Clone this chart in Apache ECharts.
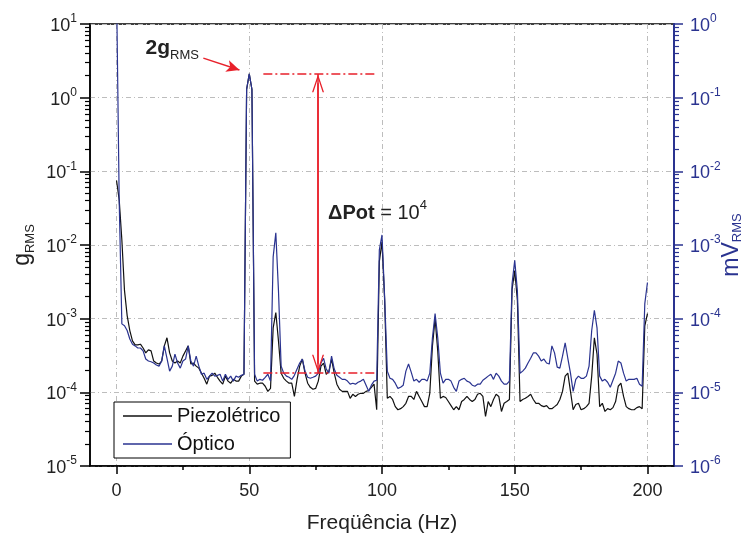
<!DOCTYPE html>
<html><head><meta charset="utf-8">
<script src="https://cdn.jsdelivr.net/npm/echarts@6/dist/echarts.min.js"></script>
<style>html,body{margin:0;padding:0;background:#fff}#c{width:752px;height:533px}</style>
</head><body><div id="c"></div>
<script>
// ---- DATA ----
const freq = [0,1,2,3,4,5,6,7,8,9,10,11,12,13,14,15,16,17,18,19,20,21,22,23,24,25,26,27,28,29,30,31,32,33,34,35,36,37,38,39,40,41,42,43,44,45,46,47,48,49,50,51,52,53,54,55,56,57,58,59,60,61,62,63,64,65,66,67,68,69,70,71,72,73,74,75,76,77,78,79,80,81,82,83,84,85,86,87,88,89,90,91,92,93,94,95,96,97,98,99,100,101,102,103,104,105,106,107,108,109,110,111,112,113,114,115,116,117,118,119,120,121,122,123,124,125,126,127,128,129,130,131,132,133,134,135,136,137,138,139,140,141,142,143,144,145,146,147,148,149,150,151,152,153,154,155,156,157,158,159,160,161,162,163,164,165,166,167,168,169,170,171,172,173,174,175,176,177,178,179,180,181,182,183,184,185,186,187,188,189,190,191,192,193,194,195,196,197,198,199,200];
// Piezoelétrico, g_RMS (left axis)
const piezo = [
0.075,0.041,0.0117,0.0024,0.0011,6.9e-4,5.0e-4,4.4e-4,4.4e-4,4.5e-4,
4.0e-4,3.43e-4,3.77e-4,3.65e-4,2.66e-4,2.5e-4,2.42e-4,2.66e-4,4.27e-4,5.5e-4,
3.43e-4,2.66e-4,2.5e-4,2.66e-4,2.5e-4,3.1e-4,3.65e-4,4.27e-4,2.42e-4,2.5e-4,
2.27e-4,2.13e-4,1.82e-4,1.55e-4,1.29e-4,1.66e-4,1.7e-4,1.82e-4,1.6e-4,1.42e-4,
1.29e-4,1.66e-4,1.42e-4,1.33e-4,1.5e-4,1.42e-4,1.42e-4,1.66e-4,1.76e-4,1.3,
2.1,1.3,1.42e-4,1.29e-4,1.33e-4,1.33e-4,1.21e-4,1.03e-4,1.13e-4,7.5e-4,
1.21e-3,5.0e-4,1.82e-4,1.55e-4,1.42e-4,1.33e-4,1.33e-4,8.8e-5,1.5e-4,2.27e-4,
2.83e-4,1.82e-4,1.33e-4,1.17e-4,1.1e-4,1.13e-4,1.42e-4,2.27e-4,2.5e-4,1.76e-4,
1.94e-4,2.83e-4,1.82e-4,1.29e-4,1.1e-4,1.03e-4,1.03e-4,1.03e-4,8.3e-5,9.4e-5,
8.8e-5,9.4e-5,9.7e-5,9.7e-5,1.03e-4,1.06e-4,1.17e-4,1.29e-4,5.8e-5,6.0e-3,
0.011,1.77e-3,8.3e-5,8.8e-5,8.0e-5,6.4e-5,5.8e-5,6.0e-5,6.4e-5,7.1e-5,
8.8e-5,8.8e-5,8.0e-5,1.03e-4,8.8e-5,7.5e-5,6.4e-5,6.4e-5,9.7e-5,4.27e-4,
1.0e-3,3.65e-4,8.3e-5,8.8e-5,8.5e-5,7.5e-5,6.6e-5,5.8e-5,6.4e-5,5.8e-5,
7.5e-5,8.0e-5,8.8e-5,8.0e-5,7.5e-5,8.0e-5,9.4e-5,9.7e-5,8.8e-5,4.7e-5,
7.5e-5,6.4e-5,8.0e-5,9.4e-5,8.8e-5,5.5e-5,7.1e-5,7.5e-5,8.0e-5,2.5e-3,
4.5e-3,1.77e-3,7.5e-5,8.0e-5,8.3e-5,8.8e-5,9.4e-5,8.0e-5,7.1e-5,7.1e-5,
6.6e-5,6.4e-5,6.6e-5,6.0e-5,6.0e-5,6.4e-5,6.85e-5,8.0e-5,1.03e-4,1.66e-4,
1.82e-4,1.03e-4,5.8e-5,6.85e-5,7.1e-5,5.8e-5,6.0e-5,6.4e-5,7.1e-5,1.66e-4,
5.5e-4,3.3e-4,6.4e-5,7.1e-5,5.5e-5,6.0e-5,5.8e-5,6.2e-5,7.5e-5,1.21e-4,
1.33e-4,8.8e-5,6.4e-5,6.0e-5,5.8e-5,5.8e-5,6.2e-5,6.4e-5,6.0e-5,8.0e-4,
1.17e-3];
// Óptico, mV_RMS (right axis)
const optico = [
3,0.004,8.5e-5,8.0e-5,6.9e-5,5.3e-5,4.5e-5,4.27e-5,4.0e-5,4.0e-5,
3.65e-5,2.83e-5,2.66e-5,2.6e-5,2.5e-5,2.35e-5,2.27e-5,2.66e-5,4.27e-5,2.9e-5,
1.94e-5,2.27e-5,3.3e-5,2.5e-5,2.13e-5,2.66e-5,2.83e-5,4.27e-5,2.66e-5,2.27e-5,
3.1e-5,2.27e-5,1.76e-5,1.82e-5,1.5e-5,1.66e-5,1.82e-5,1.66e-5,1.7e-5,1.76e-5,
1.42e-5,1.76e-5,1.5e-5,1.66e-5,1.42e-5,1.66e-5,1.6e-5,1.7e-5,1.76e-5,0.13,
0.21,0.13,1.76e-5,1.42e-5,1.5e-5,1.46e-5,1.6e-5,1.76e-5,1.42e-5,6.9e-4,
1.46e-3,2.4e-4,2.27e-5,1.82e-5,1.66e-5,1.6e-5,1.5e-5,1.7e-5,2.07e-5,2.5e-5,
2.83e-5,1.94e-5,1.6e-5,1.55e-5,1.6e-5,1.66e-5,1.82e-5,2.5e-5,2.9e-5,2.07e-5,
1.82e-5,3.1e-5,2.07e-5,1.7e-5,1.6e-5,1.5e-5,1.5e-5,1.42e-5,1.29e-5,1.33e-5,
1.29e-5,1.37e-5,1.42e-5,1.5e-5,1.25e-5,1.03e-5,1.25e-5,1.42e-5,1.46e-5,8.6e-4,
1.37e-3,1.9e-4,1.94e-5,1.55e-5,1.5e-5,1.33e-5,1.13e-5,1.17e-5,1.25e-5,1.94e-5,
2.42e-5,1.88e-5,1.42e-5,1.5e-5,1.37e-5,1.5e-5,1.5e-5,1.42e-5,1.82e-5,5.5e-5,
1.17e-4,5.5e-5,1.82e-5,1.33e-5,1.5e-5,1.5e-5,1.42e-5,1.17e-5,1.03e-5,1.42e-5,
1.5e-5,1.55e-5,1.42e-5,1.37e-5,1.25e-5,1.21e-5,1.29e-5,1.29e-5,1.46e-5,1.55e-5,
1.66e-5,1.76e-5,1.5e-5,1.82e-5,1.66e-5,1.42e-5,1.29e-5,1.29e-5,1.42e-5,3.0e-4,
6.2e-4,2.4e-4,1.82e-5,1.94e-5,2.13e-5,2.5e-5,2.9e-5,3.43e-5,3.43e-5,3.1e-5,
2.66e-5,2.83e-5,2.5e-5,2.42e-5,4.27e-5,3.43e-5,2.2e-5,2.13e-5,3.1e-5,4.7e-5,
2.9e-5,1.82e-5,1.03e-5,1.5e-5,1.66e-5,1.55e-5,1.55e-5,1.66e-5,2.27e-5,6.9e-5,
1.3e-4,7.5e-5,1.66e-5,1.42e-5,1.5e-5,1.37e-5,1.17e-5,1.46e-5,1.82e-5,2.66e-5,
2.5e-5,1.82e-5,1.42e-5,1.5e-5,1.5e-5,1.5e-5,1.55e-5,1.29e-5,1.21e-5,1.6e-4,
3.1e-4];
const xTicks = [0, 50, 100, 150, 200];
const xMinorTicks = [25, 75, 125, 175];
const seriesNames = ['Piezolétrico', 'Óptico'];
// annotation (data coordinates)
const peakLevel = 2.1;      // 2 g_RMS
const floorLevel = 1.84e-4; // noise floor
// ---- END DATA ----

const FONT = 'Liberation Sans, Arial, sans-serif';
const BLUE = '#2a3390';
const RED = '#e8212b';

function minorLog(lo, hi) {
  const out = [];
  for (let d = lo; d < hi; d++) for (let k = 2; k <= 9; k++) out.push(+(k * Math.pow(10, d)).toPrecision(3));
  return out;
}
const supFmt = v => '{b|10}{s|' + Math.round(Math.log10(v)) + '}';
const labRich = (c) => ({
  b: {fontSize: 18, fontFamily: FONT, color: c, lineHeight: 22, verticalAlign: 'bottom'},
  s: {fontSize: 12, fontFamily: FONT, color: c, lineHeight: 14, verticalAlign: 'top'}
});
const grid = {left: 90, right: 78, top: 24, bottom: 67, show: true, borderColor: '#000', borderWidth: 1.5,
  backgroundColor: 'transparent', containLabel: false, outerBoundsMode: 'none'};
const gridLine = {show: true, lineStyle: {color: '#bdbdbd', width: 1, type: [5, 3, 1, 3]}};
const chevron = 'path://M6,0 L12,18 L10.6,18 L6,4 L1.4,18 L0,18 Z';

const chart = echarts.init(document.getElementById('c'));
const option = {
  animation: false,
  backgroundColor: '#fff',
  grid: grid,
  legend: {
    orient: 'vertical', left: 114, top: 402, itemWidth: 49, itemHeight: 1.4, itemGap: 8, icon: 'rect',
    padding: [4, 10, 4, 9], borderColor: '#000', borderWidth: 1, backgroundColor: '#fff',
    textStyle: {fontSize: 20, fontFamily: FONT, color: '#111', lineHeight: 20},
    data: seriesNames
  },
  xAxis: [{
    type: 'value', min: -10, max: 210,
    name: 'Freqüência (Hz)', nameLocation: 'middle', nameGap: 47, nameMoveOverlap: false,
    nameTextStyle: {fontSize: 21, fontFamily: FONT, color: '#222'},
    axisLine: {show: true, onZero: false, lineStyle: {color: '#000', width: 1.5}},
    axisTick: {show: true, customValues: xTicks, length: 8, lineStyle: {color: '#000', width: 1.5}},
    axisLabel: {customValues: xTicks, fontSize: 18, fontFamily: FONT, color: '#222', margin: 16},
    splitLine: gridLine
  }, {
    type: 'value', min: -10, max: 210, position: 'bottom',
    axisLine: {show: false, onZero: false},
    axisTick: {show: true, customValues: xMinorTicks, length: 4, lineStyle: {color: '#000', width: 1.5}},
    axisLabel: {show: false}, splitLine: {show: false}
  }],
  yAxis: [{
    type: 'log', logBase: 10, min: 1e-5, max: 10, interval: 1, position: 'left',
    name: '{g|g}{s|RMS}', nameLocation: 'middle', nameGap: 53, nameRotate: 90, nameMoveOverlap: false,
    nameTextStyle: {rich: {
      g: {fontSize: 23, fontFamily: FONT, color: '#222', lineHeight: 26, verticalAlign: 'top'},
      s: {fontSize: 13, fontFamily: FONT, color: '#222', lineHeight: 14, verticalAlign: 'bottom'}}},
    axisLine: {show: true, onZero: false, lineStyle: {color: '#000', width: 1.5}},
    axisTick: {show: true, length: 10, lineStyle: {color: '#000', width: 1.5}},
    axisLabel: {formatter: supFmt, rich: labRich('#222'), margin: 13},
    splitLine: gridLine
  }, {
    type: 'log', logBase: 10, min: 1e-6, max: 1, interval: 1, position: 'right',
    name: '{g|mV}{s|RMS}', nameLocation: 'middle', nameGap: 46, nameRotate: 90, nameMoveOverlap: false,
    nameTextStyle: {rich: {
      g: {fontSize: 23, fontFamily: FONT, color: BLUE, lineHeight: 24, verticalAlign: 'top'},
      s: {fontSize: 13, fontFamily: FONT, color: BLUE, lineHeight: 14, verticalAlign: 'bottom'}}},
    axisLine: {show: true, onZero: false, lineStyle: {color: BLUE, width: 2}},
    axisTick: {show: true, length: 9, lineStyle: {color: BLUE, width: 1.5}},
    axisLabel: {formatter: supFmt, rich: labRich(BLUE), margin: 16},
    splitLine: {show: false}
  }, {
    type: 'log', logBase: 10, min: 1e-5, max: 10, position: 'left',
    axisLine: {show: false, onZero: false}, axisLabel: {show: false}, splitLine: {show: false},
    axisTick: {show: true, customValues: minorLog(-5, 1), length: 5, lineStyle: {color: '#000', width: 1.2}}
  }, {
    type: 'log', logBase: 10, min: 1e-6, max: 1, position: 'right',
    axisLine: {show: false, onZero: false}, axisLabel: {show: false}, splitLine: {show: false},
    axisTick: {show: true, customValues: minorLog(-6, 0), length: 5, lineStyle: {color: BLUE, width: 1.2}}
  }],
  series: [{
    name: seriesNames[0], type: 'line', xAxisIndex: 0, yAxisIndex: 0,
    data: freq.map((f, i) => [f, piezo[i]]),
    symbol: 'none', clip: true, lineStyle: {color: '#111', width: 1.2}, itemStyle: {color: '#111'},
    z: 2,
    markLine: {
      silent: true, animation: false, symbol: ['none', 'none'], label: {show: false},
      lineStyle: {color: RED, width: 1.5, type: 'solid'},
      emphasis: {disabled: true},
      data: [
        [{coord: [55.3, peakLevel], lineStyle: {color: RED, width: 1.5, type: [9, 3, 2, 3]}}, {coord: [97.4, peakLevel]}],
        [{coord: [55.3, floorLevel], lineStyle: {color: RED, width: 1.5, type: [9, 3, 2, 3]}}, {coord: [97.4, floorLevel]}],
        [{coord: [75.9, peakLevel]}, {coord: [75.9, floorLevel]}],
        [{coord: [75.9, 1.57], symbol: chevron, symbolSize: [12, 18]}, {coord: [75.9, 2.44e-4], symbol: chevron, symbolSize: [12, 18]}],
        [{coord: [32.7, 3.44]}, {coord: [46.3, 2.37], symbol: 'arrow', symbolSize: [9, 13]}]
      ]
    }
  }, {
    name: seriesNames[1], type: 'line', xAxisIndex: 0, yAxisIndex: 1,
    data: freq.map((f, i) => [f, optico[i]]),
    symbol: 'none', clip: true, lineStyle: {color: BLUE, width: 1.2}, itemStyle: {color: BLUE},
    z: 3
  }]
};
chart.setOption(option);

const pLabel = chart.convertToPixel({xAxisIndex: 0, yAxisIndex: 0}, [10.9, 4.43]);
const pDelta = chart.convertToPixel({xAxisIndex: 0, yAxisIndex: 0}, [79.7, 0.0286]);
chart.setOption({
  graphic: [{
    type: 'text', x: pLabel[0], y: pLabel[1], z: 100,
    style: {
      text: '{b|2g}{s|RMS}', align: 'left', verticalAlign: 'middle',
      rich: {
        b: {fontSize: 21, fontWeight: 'bold', fontFamily: FONT, fill: '#222', lineHeight: 24, verticalAlign: 'top'},
        s: {fontSize: 13, fontFamily: FONT, fill: '#222', lineHeight: 14, verticalAlign: 'bottom'}
      }
    }
  }, {
    type: 'text', x: pDelta[0], y: pDelta[1], z: 100,
    style: {
      text: '{b|ΔPot}{n| = 10}{p|4}', align: 'left', verticalAlign: 'middle',
      rich: {
        b: {fontSize: 20, fontWeight: 'bold', fontFamily: FONT, fill: '#222', lineHeight: 24, verticalAlign: 'bottom'},
        n: {fontSize: 20, fontFamily: FONT, fill: '#222', lineHeight: 24, verticalAlign: 'bottom'},
        p: {fontSize: 13, fontFamily: FONT, fill: '#222', lineHeight: 14, verticalAlign: 'top'}
      }
    }
  }]
});
</script>
</body></html>
